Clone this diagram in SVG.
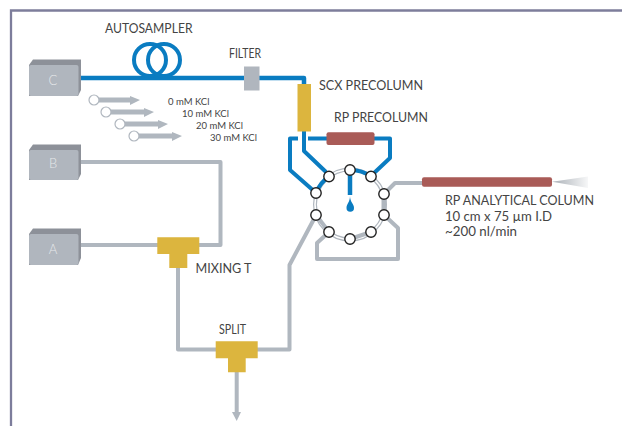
<svg xmlns="http://www.w3.org/2000/svg" width="622" height="426" viewBox="0 0 622 426">
<style>
text{font-family:"Lato","Liberation Sans",sans-serif;fill:#444;font-size:12.500px;font-weight:400}
.k{font-size:9.500px}
.p{font-size:13px;fill:#e6e8ea;text-anchor:middle;font-weight:300}
.blue{fill:none;stroke:#0a7cc1;stroke-width:4;stroke-linejoin:round}
.gray{fill:none;stroke:#b0b7bf;stroke-width:4;stroke-linejoin:round}
.port{fill:#fff;stroke:#222;stroke-width:1.400}
.gold{fill:#dcb53e}
.red{fill:#a95b57}
.box{fill:#b0b6be}
.boxd{fill:#8d9199}
.lane{fill:#b0b7bf}
.o{fill:#fff;stroke:#b0b7bf;stroke-width:1.200}
</style>
<defs>
<linearGradient id="tip"><stop offset="0" stop-color="#a9afb6"/><stop offset="1" stop-color="#a9afb6" stop-opacity=".1"/></linearGradient>
</defs>
<rect width="622" height="426" fill="#fff"/>
<path d="M11 426V10.500H622" fill="none" stroke="#7d7d9b" stroke-width="2.300"/>
<g id="connectors">
<path class="blue" d="M80 78H304V86" style="stroke-width:4.500"/>
<circle cx="150" cy="60" r="16" class="blue"/><circle cx="164" cy="60" r="16" class="blue"/>
<path class="blue" d="M304 131V151L326 172"/>
<path class="blue" d="M298 138.500H290V170L315 192"/>
<path class="blue" d="M308 138.500H390V158L373 174"/>
<circle cx="350" cy="204.500" r="35" fill="none" stroke="#b0b7bf" stroke-width="4"/>
<circle cx="350" cy="204.500" r="35" fill="none" stroke="#fff" stroke-width="1.600"/>
<path class="blue" d="M316 193A35 35 0 0 1 329 176.500"/>
<path class="blue" d="M350 170A35 35 0 0 1 371 176.500"/>
<path class="blue" d="M350 170V195" style="stroke-width:4.500"/>
<path d="M350 196C350 202 346.500 204 346.500 208A3.700 3.700 0 0 0 354 208C354 204 350 202 350 196Z" fill="#0a7cc1"/>
<path class="gray" d="M384 194V215" style="stroke-width:5"/>
<path class="gray" d="M384 194L395 183H422"/>
<path class="gray" d="M384 215L398 228V259H317V243L329 232"/>
<path class="gray" d="M316 215L329 232"/>
<path class="gray" d="M350 239L371 232"/>
<path class="gray" d="M80 162H220.500V245H197"/>
<path class="gray" d="M80 245H160"/>
<path class="gray" d="M178 265V349.500H218"/>
<path class="gray" d="M256 349.500H289.500V265L314 219"/>
<path class="gray" d="M236.700 370V412"/>
<path d="M232 412H241L236.700 421Z" fill="#b0b7bf"/>
</g>
<g id="pump-c"><path class="boxd" d="M29 65L33 59.500H81V90L78 96H29Z"/><rect class="box" x="29" y="65" width="49.500" height="31" rx="2"/><text class="p" x="53" y="85">C</text></g>
<g id="pump-b"><path class="boxd" d="M29 150L33 144.500H81V174L78 180H29Z"/><rect class="box" x="29" y="150" width="49.500" height="30" rx="2"/><text class="p" x="53" y="168">B</text></g>
<g id="pump-a"><path class="boxd" d="M29 234L33 228.500H81V258L78 265H29Z"/><rect class="box" x="29" y="234" width="49.500" height="31" rx="2"/><text class="p" x="53" y="254">A</text></g>
<g id="autosampler"><text x="105" y="33" textLength="87.500" lengthAdjust="spacingAndGlyphs">AUTOSAMPLER</text></g>
<g id="filter"><rect class="box" x="244" y="66.500" width="15.500" height="24"/><text x="229" y="58" textLength="32" lengthAdjust="spacingAndGlyphs">FILTER</text></g>
<g id="salt-steps">
<rect class="lane" x="98" y="97.500" width="34" height="5"/><path class="lane" d="M130 96L140 100L130 105Z"/><circle class="o" cx="94" cy="100" r="5"/>
<rect class="lane" x="110" y="109.500" width="36" height="5"/><path class="lane" d="M144 108L154 112L144 117Z"/><circle class="o" cx="106" cy="112" r="5"/>
<rect class="lane" x="124" y="121.500" width="36" height="5"/><path class="lane" d="M158 120L168 124L158 129Z"/><circle class="o" cx="120" cy="124" r="5"/>
<rect class="lane" x="138" y="133.500" width="36" height="5"/><path class="lane" d="M172 132L182 136L172 141Z"/><circle class="o" cx="134" cy="136" r="5"/>
<text class="k" x="168" y="105">0 mM KCl</text>
<text class="k" x="182" y="117">10 mM KCl</text>
<text class="k" x="196" y="129">20 mM KCl</text>
<text class="k" x="210" y="141">30 mM KCl</text>
</g>
<g id="scx-precolumn"><rect class="gold" x="297.500" y="84" width="13.500" height="47.500"/><text x="319" y="90" textLength="104" lengthAdjust="spacingAndGlyphs">SCX PRECOLUMN</text></g>
<g id="rp-precolumn"><rect class="red" x="326.500" y="132.300" width="48" height="12.700" rx="2"/><text x="334" y="122" textLength="94" lengthAdjust="spacingAndGlyphs">RP PRECOLUMN</text></g>
<g id="valve">
<circle class="port" cx="350" cy="170" r="5.200"/>
<circle class="port" cx="371" cy="176.500" r="5.200"/>
<circle class="port" cx="384" cy="194" r="5.200"/>
<circle class="port" cx="384" cy="215" r="5.200"/>
<circle class="port" cx="371" cy="232" r="5.200"/>
<circle class="port" cx="350" cy="239" r="5.200"/>
<circle class="port" cx="329" cy="232" r="5.200"/>
<circle class="port" cx="316" cy="215" r="5.200"/>
<circle class="port" cx="316" cy="193" r="5.200"/>
<circle class="port" cx="329" cy="176.500" r="5.200"/>
</g>
<g id="analytical-column">
<rect class="red" x="422" y="177.300" width="130" height="9.400" rx="2"/>
<path d="M552 181.700L588 176.500V188Z" fill="url(#tip)"/>
<text x="445" y="205" textLength="149" lengthAdjust="spacingAndGlyphs">RP ANALYTICAL COLUMN</text>
<text x="445" y="220.500" textLength="107" lengthAdjust="spacingAndGlyphs">10 cm x 75 µm I.D</text>
<text x="445" y="236" textLength="72" lengthAdjust="spacingAndGlyphs">~200 nl/min</text>
</g>
<g id="mixing-t"><path class="gold" d="M157.300 237.300H199.300V254H187.300V268H169.300V254H157.300Z"/><text x="195.500" y="273" textLength="56" lengthAdjust="spacingAndGlyphs">MIXING T</text></g>
<g id="split"><path class="gold" d="M215.700 341.300H257.700V358.300H245.700V372.300H228V358.300H215.700Z"/><text x="219" y="334" textLength="27" lengthAdjust="spacingAndGlyphs">SPLIT</text></g>
</svg>
